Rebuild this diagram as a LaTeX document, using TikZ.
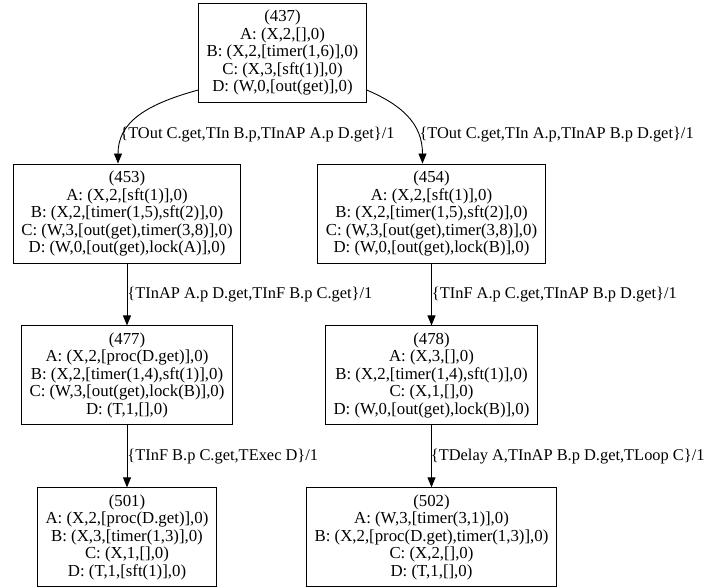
\documentclass[tikz,border=0pt]{standalone}
\usepackage{fontspec}
\setmainfont{Liberation Serif}
\usepackage{xcolor}
\usepackage{tikz}
\usetikzlibrary{arrows.meta,positioning}
\definecolor{ink}{HTML}{000000}
\newcommand{\gvfont}{\fontsize{16.8pt}{17.5pt}\selectfont}
\newcommand{\gvlblfont}{\fontsize{16.4pt}{17.5pt}\selectfont}
\tikzset{
  state/.style={draw=ink, line width=0.9pt, rectangle, align=center, text=ink,
                minimum height=99pt, inner xsep=8pt, inner ysep=2pt, font=\gvfont},
  trans/.style={-{Triangle[length=10pt, width=8pt]}, line width=0.9pt, draw=ink},
  lbl/.style={font=\gvlblfont, text=ink, inner sep=0pt, anchor=west}
}

\begin{document}
\begin{tikzpicture}[node distance=62pt]
  \useasboundingbox (0pt,0pt) rectangle (705pt,-588pt);
  \node[state] (n437) at (282.5pt,-52.5pt) {(437)\\A: (X,2,[],0)\\B: (X,2,[timer(1,6)],0)\\C: (X,3,[sft(1)],0)\\D: (W,0,[out(get)],0)};
  \node[state] (n453) at (127pt,-213.5pt) {(453)\\A: (X,2,[sft(1)],0)\\B: (X,2,[timer(1,5),sft(2)],0)\\C: (W,3,[out(get),timer(3,8)],0)\\D: (W,0,[out(get),lock(A)],0)};
  \node[state] (n454) at (431.5pt,-213.5pt) {(454)\\A: (X,2,[sft(1)],0)\\B: (X,2,[timer(1,5),sft(2)],0)\\C: (W,3,[out(get),timer(3,8)],0)\\D: (W,0,[out(get),lock(B)],0)};
  \node[state, below=of n453] (n477) {(477)\\A: (X,2,[proc(D.get)],0)\\B: (X,2,[timer(1,4),sft(1)],0)\\C: (W,3,[out(get),lock(B)],0)\\D: (T,1,[],0)};
  \node[state, below=of n454] (n478) {(478)\\A: (X,3,[],0)\\B: (X,2,[timer(1,4),sft(1)],0)\\C: (X,1,[],0)\\D: (W,0,[out(get),lock(B)],0)};
  \node[state, below=of n477] (n501) {(501)\\A: (X,2,[proc(D.get)],0)\\B: (X,3,[timer(1,3)],0)\\C: (X,1,[],0)\\D: (T,1,[sft(1)],0)};
  \node[state, below=of n478] (n502) {(502)\\A: (W,3,[timer(3,1)],0)\\B: (X,2,[proc(D.get),timer(1,3)],0)\\C: (X,2,[],0)\\D: (T,1,[],0)};
  % transitions
  \draw[trans] (n437.204) .. controls +(-55pt,-15pt) and +(0pt,40pt) .. ([xshift=-9pt]n453.north)
    node[lbl, pos=0.7, xshift=-5pt, yshift=-2pt] (t1) {\{TOut C.get,TIn B.p,TInAP A.p D.get\}/1};
  \draw[trans] (n437.336) .. controls +(35pt,-15pt) and +(0pt,40pt) .. ([xshift=-9pt]n454.north)
    node[lbl, pos=0.7, xshift=2pt, yshift=-2pt] (t2) {\{TOut C.get,TIn A.p,TInAP B.p D.get\}/1};
  \draw[trans] (n453) -- (n477) node[lbl, midway] (t3) {\{TInAP A.p D.get,TInF B.p C.get\}/1};
  \draw[trans] (n454) -- (n478) node[lbl, midway] (t4) {\{TInF A.p C.get,TInAP B.p D.get\}/1};
  \draw[trans] (n477) -- (n501) node[lbl, midway] (t5) {\{TInF B.p C.get,TExec D\}/1};
  \draw[trans] (n478) -- (n502) node[lbl, midway, xshift=-1pt] (t6) {\{TDelay A,TInAP B.p D.get,TLoop C\}/1};
\end{tikzpicture}
\end{document}
